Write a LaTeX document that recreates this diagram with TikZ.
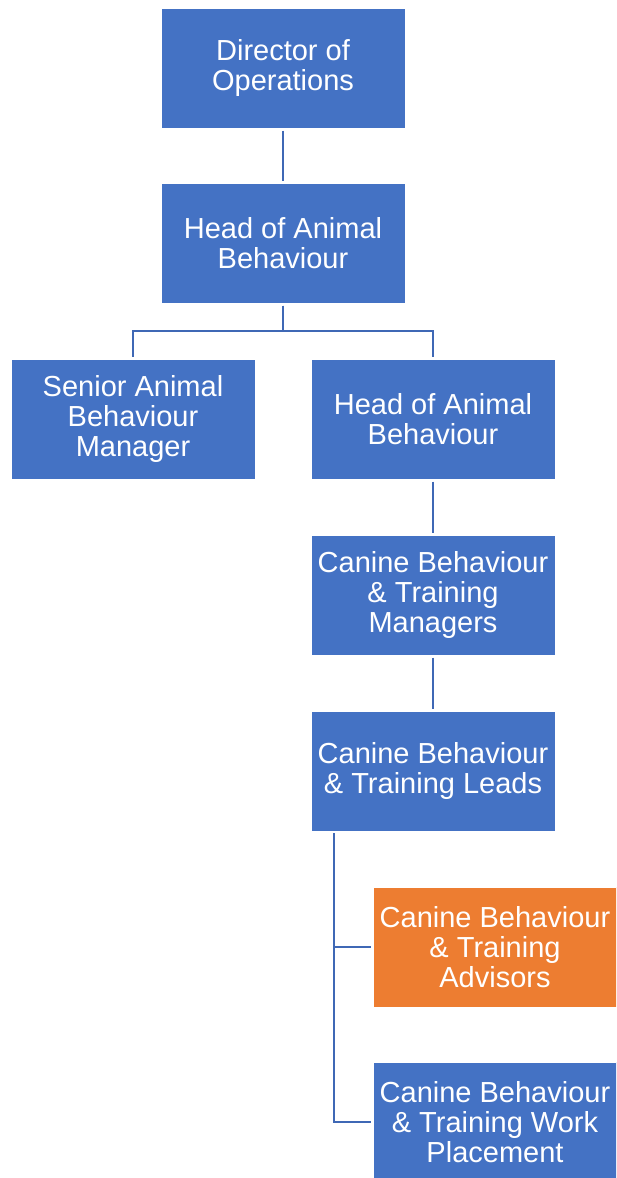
\documentclass[tikz,border=0pt]{standalone}
\usepackage{fontspec}
\setmainfont{Liberation Sans}
\definecolor{boxblue}{HTML}{4472C4}
\definecolor{boxorange}{HTML}{ED7D31}
\definecolor{lineblue}{HTML}{3F68B5}
\tikzset{
	post/.style={rectangle, draw=white, line width=1pt, fill=boxblue, text=white,
		minimum width=244pt, minimum height=120pt, inner sep=0pt, align=center,
		font=\fontsize{29}{30}\selectfont},
	link/.style={lineblue, line width=2pt, shorten <=2pt, shorten >=2pt}
}
\begin{document}
\begin{tikzpicture}[x=1pt, y=1pt]
	\useasboundingbox (0,0) rectangle (616,-1178);
	\clip (0,0) rectangle (616,-1178);
	
	\node[post] at (283,-68) (dir) {Director of\\Operations};
	\node[post] at (283,-243) (head) {Head of Animal\\Behaviour};
	\node[post] at (133,-419) (senior) {Senior Animal\\Behaviour\\Manager};
	\node[post] at (433,-419) (headtwo) {Head of Animal\\Behaviour};
	\node[post] at (433,-595) (mgrs) {Canine Behaviour\\\& Training\\Managers};
	\node[post] at (433,-771) (leads) {Canine Behaviour\\\& Training Leads};
	\node[post, fill=boxorange] at (495,-947) (adv) {Canine Behaviour\\\& Training\\Advisors};
	\node[post] at (495,-1122) (work) {Canine Behaviour\\\& Training Work\\Placement};
	
	\draw[link] (dir) -- (head);
	\draw[link] (head.south) -- ++(0,-27) -| (senior.north);
	\draw[link] (head.south) -- ++(0,-27) -| (headtwo.north);
	\draw[link] (headtwo) -- (mgrs);
	\draw[link] (mgrs) -- (leads);
	
	\coordinate (spine) at (334,-831);
	\draw[link] (spine) |- (adv.west);
	\draw[link] (spine) |- (work.west);
\end{tikzpicture}
\end{document}
